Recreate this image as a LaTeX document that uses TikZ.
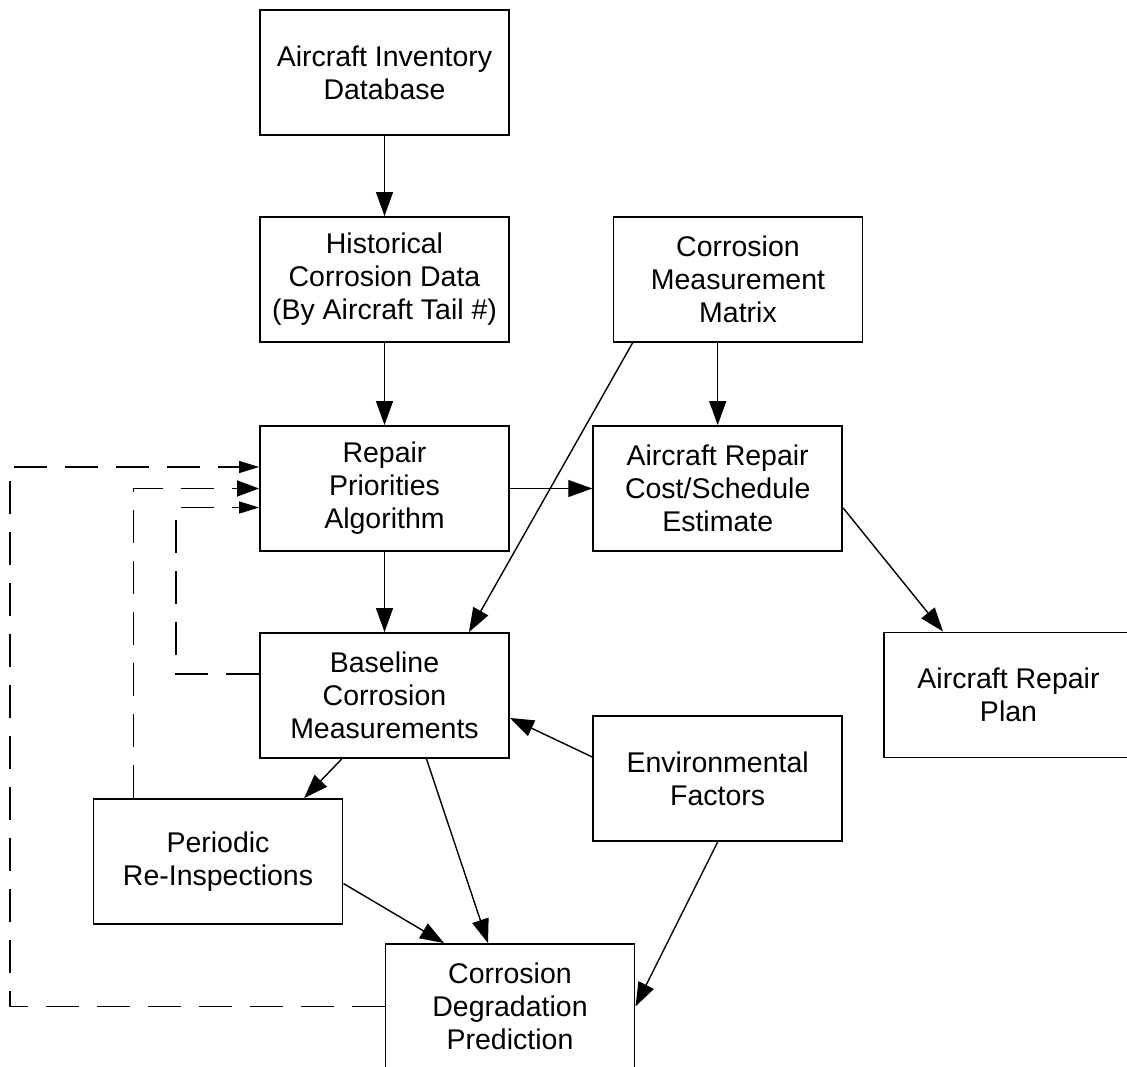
\documentclass[tikz,border=0pt]{standalone}
\usepackage{fontspec}
\setmainfont{Liberation Sans}
\usetikzlibrary{arrows.meta,calc}
\begin{document}
\begin{tikzpicture}[x=1pt,y=-1pt,
  box/.style={draw,line width=1.9pt,minimum width=249pt,minimum height=125pt,inner sep=0pt,align=center,font=\fontsize{28.5}{33}\selectfont},
  link/.style={line width=1.4pt,-{Triangle[length=24pt,width=17pt]}},
  back/.style={line width=1.4pt,dash pattern=on 33pt off 18pt,-{Triangle[length=20pt,width=12pt]}},
  bigback/.style={back,-{Triangle[length=22pt,width=16pt]}}]
\useasboundingbox (0,0) rectangle (1127,1067);
\clip (0,0) rectangle (1127,1067);
\node[box] (inv) at (384.5,72.5) {Aircraft Inventory\\Database};
\node[box] (hist) at (384.5,279.5) {Historical\\Corrosion Data\\(By Aircraft Tail \#)};
\node[box] (meas) at (738,279.5) {Corrosion\\Measurement\\Matrix};
\node[box] (repair) at (384.5,488.5) {Repair\\Priorities\\Algorithm};
\node[box] (cost) at (717.7,488.5) {Aircraft Repair\\Cost/Schedule\\Estimate};
\node[box] (base) at (384.5,695.5) {Baseline\\Corrosion\\Measurements};
\node[box] (plan) at (1008.5,695) {Aircraft Repair\\Plan};
\node[box] (env) at (717.7,778.5) {Environmental\\Factors};
\node[box] (peri) at (218,861.5) {Periodic\\Re-Inspections};
\node[box] (pred) at (510,1006.5) {Corrosion\\Degradation\\Prediction};
\draw[link] (inv) -- (hist);
\draw[link] (hist) -- (repair);
\draw[link] (repair) -- (base);
\draw[link] (meas.south -| cost.north) -- (cost.north);
\draw[link] (repair) -- (cost);
\draw[link] ($(meas.south west)+(20,0)$) -- ($(base.north east)+(-41,0)$);
\draw[link] ($(cost.east)+(0,19.5)$) -- ($(plan.north west)+(60,0)$);
\draw[link] ($(env.west)+(0,-21.5)$) -- ($(base.south east)+(0,-41)$);
\draw[link] ($(base.south west)+(82.7,0)$) -- ($(peri.north east)+(-39.3,0)$);
\draw[link] ($(base.south)+(42,0)$) -- ($(pred.north)+(-22,0)$);
\draw[link] ($(peri.east)+(0,22)$) -- ($(pred.north west)+(59.5,0)$);
\draw[link] (env.south) -- (pred.east);
\coordinate (outer) at (10,467);
\coordinate (inner) at (176,507.5);
\draw[back] (pred.west) -| (outer) -- (outer -| repair.west);
\draw[bigback] ($(peri.north west)+(41,0)$) |- (repair.west);
\draw[back] ($(base.west)+(0,-21.5)$) -| (inner) -- (inner -| repair.west);
\end{tikzpicture}
\end{document}
